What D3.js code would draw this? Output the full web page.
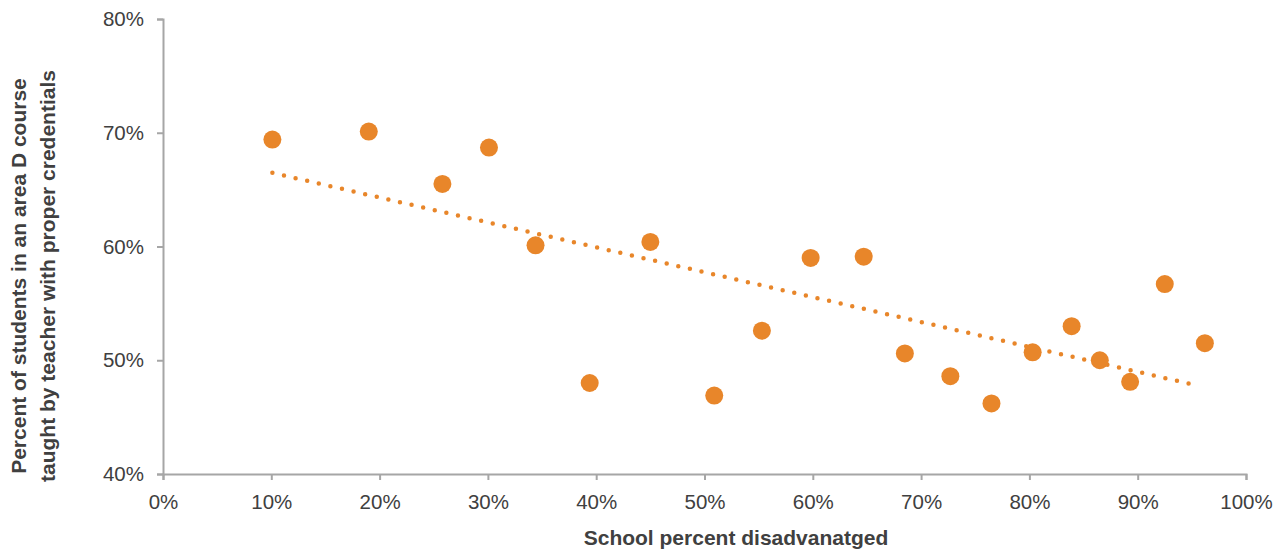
<!DOCTYPE html>
<html><head><meta charset="utf-8">
<script src="https://cdn.jsdelivr.net/npm/d3@7"></script>
<style>body{margin:0;background:#fff}svg{display:block;font-family:"Liberation Sans",Arial,sans-serif}</style>
</head><body><svg id="c" width="1281" height="552"></svg>
<script>
const disadvantaged = [10.1,19.0,25.8,30.1,34.4,39.4,45.0,50.9,55.3,59.8,64.7,68.5,72.7,76.5,80.3,83.9,86.5,89.3,92.5,96.2];
const credentialed  = [69.4,70.1,65.5,68.7,60.1,48.0,60.4,46.9,52.6,59.0,59.1,50.6,48.6,46.2,50.7,53.0,50.0,48.1,56.7,51.5];
const xTicks = [0,10,20,30,40,50,60,70,80,90,100];
const yTicks = [40,50,60,70,80];
const xTitle = "School percent disadvanatged";
const yTitle = ["Percent of students in an area D course","taught by teacher with proper credentials"];

const svg = d3.select("#c");
const x = d3.scaleLinear().domain([0,100]).range([163,1246]);
const y = d3.scaleLinear().domain([40,80]).range([474,19]);
const axisColor = "#a6a6a6", textColor = "#404040", orange = "#E8862A";

const xa = svg.append("g").attr("transform","translate(0,474)")
  .call(d3.axisBottom(x).tickValues(xTicks).tickFormat(d=>d+"%").tickSizeOuter(0).tickSize(6).tickPadding(14));
const ya = svg.append("g").attr("transform","translate(163,0)")
  .call(d3.axisLeft(y).tickValues(yTicks).tickFormat(d=>d+"%").tickSizeOuter(0).tickSize(6).tickPadding(13));
[xa,ya].forEach(a=>{
  a.selectAll("path,line").attr("stroke",axisColor).attr("stroke-width",2);
  a.selectAll("text").attr("fill",textColor).attr("font-size",20.5).attr("font-family","Liberation Sans, Arial, sans-serif");
});

// linear trend (least squares)
const n = disadvantaged.length;
const mx = d3.mean(disadvantaged), my = d3.mean(credentialed);
let sxy=0,sxx=0;
for(let i=0;i<n;i++){sxy+=(disadvantaged[i]-mx)*(credentialed[i]-my);sxx+=(disadvantaged[i]-mx)**2;}
const b = sxy/sxx, a0 = my-b*mx;
const x0 = d3.min(disadvantaged), x1 = 95.4;
svg.append("line")
  .attr("x1",x(x0)).attr("y1",y(a0+b*x0)).attr("x2",x(x1)).attr("y2",y(a0+b*x1))
  .attr("stroke",orange).attr("stroke-width",4.5).attr("stroke-linecap","round").attr("stroke-dasharray","0 11.9");

svg.append("g").selectAll("circle").data(disadvantaged).join("circle")
  .attr("cx",d=>x(d)).attr("cy",(d,i)=>y(credentialed[i])).attr("r",9).attr("fill",orange);

svg.append("text").attr("x",736).attr("y",545).attr("text-anchor","middle")
  .attr("font-size",21).attr("font-weight","bold").attr("fill",textColor).text(xTitle);
const yt = svg.append("text").attr("transform","translate(0,276) rotate(-90)").attr("text-anchor","middle")
  .attr("font-size",21).attr("font-weight","bold").attr("fill",textColor);
yt.selectAll("tspan").data(yTitle).join("tspan").attr("x",0).attr("y",(d,i)=>26+i*29).text(d=>d);
</script></body></html>
